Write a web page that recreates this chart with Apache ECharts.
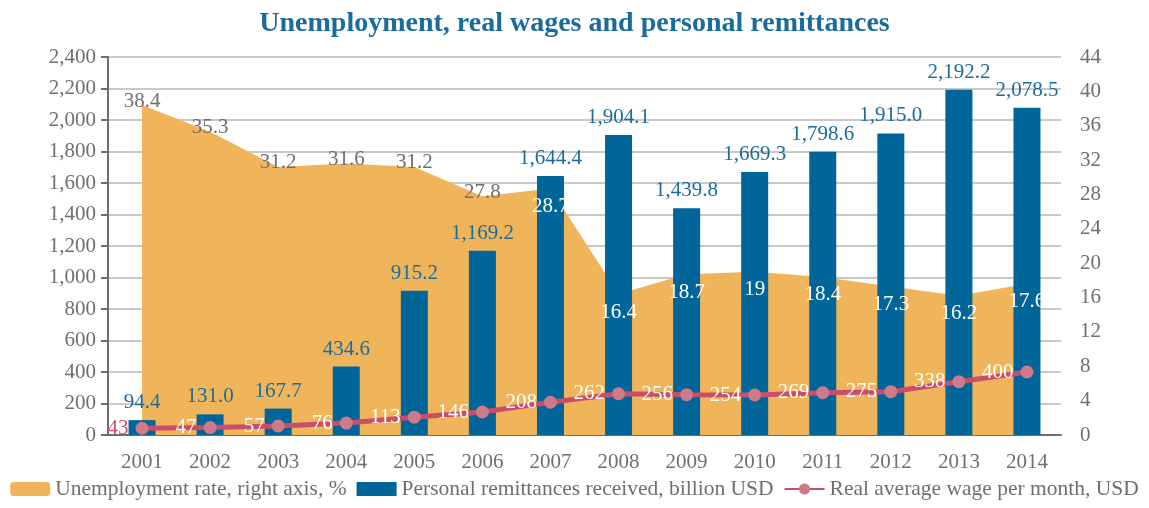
<!DOCTYPE html>
<html>
<head>
<meta charset="utf-8">
<script src="https://cdn.jsdelivr.net/npm/echarts@6/dist/echarts.min.js"></script>
<style>
html,body{margin:0;padding:0;background:#fff;}
#chart{width:1149px;height:508px;}
</style>
</head>
<body>
<div id="chart"></div>
<script>
const years = ['2001','2002','2003','2004','2005','2006','2007','2008','2009','2010','2011','2012','2013','2014'];
const unemployment = [38.4,35.3,31.2,31.6,31.2,27.8,28.7,16.4,18.7,19,18.4,17.3,16.2,17.6];
const remittances = [94.4,131.0,167.7,434.6,915.2,1169.2,1644.4,1904.1,1439.8,1669.3,1798.6,1915.0,2192.2,2078.5];
const wages = [43,47,57,76,113,146,208,262,256,254,269,275,338,400];

const FONT = '"Liberation Serif", "DejaVu Serif", serif';
const GRAY = '#6f6f6f';
const ORANGE = '#f0b55a';

function fmtComma(v, dec) {
  const s = Number(v).toFixed(dec);
  const parts = s.split('.');
  parts[0] = parts[0].replace(/\B(?=(\d{3})+(?!\d))/g, ',');
  return parts.join('.');
}

// label styling for the unemployment values: gray on the early points, white later
const unempLabelData = unemployment.map((v, i) => ({
  value: v,
  label: i < 6
    ? {offset: [0, -4], color: GRAY}
    : {offset: [0, 18], color: '#ffffff'}
}));
const wageData = wages.map((v, i) => (i === 0 ? {value: v, label: {color: '#d0506e'}} : v));

const chart = echarts.init(document.getElementById('chart'), null, {renderer: 'canvas'});
chart.setOption({
  animation: false,
  backgroundColor: '#ffffff',
  title: {
    text: 'Unemployment, real wages and personal remittances',
    left: 'center',
    top: 5,
    textStyle: {fontFamily: FONT, fontWeight: 'bold', fontSize: 28, color: '#1a6c9c'}
  },
  legend: {
    bottom: 3,
    left: 'center',
    itemWidth: 40,
    itemHeight: 14,
    itemGap: 10,
    textStyle: {fontFamily: FONT, fontSize: 21.5, color: GRAY},
    data: [
      {name: 'Unemployment rate, right axis, %', icon: 'roundRect'},
      {name: 'Personal remittances received, billion USD', icon: 'rect'},
      {name: 'Real average wage per month, USD'}
    ]
  },
  grid: {left: 108, right: 88, top: 57, bottom: 73, containLabel: false},
  xAxis: {
    type: 'category',
    data: years,
    boundaryGap: true,
    axisLine: {lineStyle: {color: '#6e6e6e', width: 2}},
    axisTick: {show: false},
    axisLabel: {fontFamily: FONT, fontSize: 21, color: GRAY, margin: 17}
  },
  yAxis: [
    {
      type: 'value', min: 0, max: 2400, interval: 200,
      axisLine: {show: true, lineStyle: {color: '#6e6e6e', width: 2}},
      axisTick: {show: true, length: 7, lineStyle: {color: '#6e6e6e', width: 2}},
      splitLine: {lineStyle: {color: '#c9c9c9', width: 2}},
      axisLabel: {fontFamily: FONT, fontSize: 21, color: GRAY, margin: 12, formatter: v => fmtComma(v, 0)}
    },
    {
      type: 'value', min: 0, max: 44, interval: 4, position: 'right',
      axisLine: {show: false},
      axisTick: {show: false},
      splitLine: {show: false},
      axisLabel: {fontFamily: FONT, fontSize: 21, color: GRAY, margin: 19}
    }
  ],
  series: [
    {
      name: 'Unemployment rate, right axis, %',
      type: 'line',
      yAxisIndex: 1,
      data: unemployment,
      symbol: 'none',
      lineStyle: {width: 0, color: ORANGE},
      itemStyle: {color: ORANGE},
      areaStyle: {color: ORANGE, opacity: 1},
      z: 1,
      label: {show: false}
    },
    {
      name: 'Personal remittances received, billion USD',
      type: 'bar',
      data: remittances,
      barWidth: 27,
      itemStyle: {color: '#00669a'},
      z: 2,
      label: {
        show: true, position: 'top', distance: 7,
        fontFamily: FONT, fontSize: 21, color: '#1a6c9c',
        formatter: p => fmtComma(p.value, 1)
      }
    },
    {
      name: 'unemployment-labels',
      type: 'line',
      yAxisIndex: 1,
      data: unempLabelData,
      symbol: 'circle',
      symbolSize: 2,
      showSymbol: true,
      itemStyle: {color: 'rgba(0,0,0,0)', borderWidth: 0},
      lineStyle: {color: 'rgba(0,0,0,0)', width: 0},
      silent: true,
      z: 3,
      label: {
        show: true, position: 'inside',
        fontFamily: FONT, fontSize: 21,
        formatter: p => String(p.value)
      }
    },
    {
      name: 'Real average wage per month, USD',
      type: 'line',
      data: wageData,
      symbol: 'circle',
      symbolSize: 13,
      lineStyle: {color: '#c84e6c', width: 5},
      itemStyle: {color: '#cf7a89'},
      z: 4,
      label: {
        show: true, position: 'left', distance: 7,
        fontFamily: FONT, fontSize: 21, color: '#ffffff'
      }
    }
  ]
});
</script>
</body>
</html>
